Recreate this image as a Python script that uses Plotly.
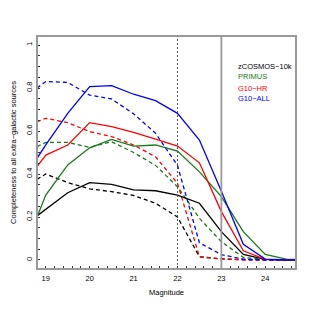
import plotly.graph_objects as go

mag = [18.8, 19.0, 19.5, 20.0, 20.5, 21.0, 21.5, 22.0, 22.5, 23.0, 23.5, 24.0, 24.5, 24.7]

zcosmos_solid = [0.205, 0.235, 0.313, 0.36, 0.352, 0.326, 0.322, 0.302, 0.264, 0.132, 0.026, 0.003, 0.0, 0.0]
zcosmos_dash  = [0.375, 0.40, 0.36, 0.331, 0.318, 0.30, 0.264, 0.20, 0.015, 0.005, 0.002, 0.0, 0.0, 0.0]
primus_solid  = [0.20, 0.302, 0.442, 0.522, 0.561, 0.53, 0.535, 0.507, 0.41, 0.295, 0.132, 0.026, 0.003, 0.003]
primus_dash   = [0.527, 0.547, 0.547, 0.524, 0.55, 0.50, 0.44, 0.341, 0.194, 0.085, 0.012, 0.002, 0.0, 0.0]
g10hr_solid   = [0.434, 0.488, 0.535, 0.639, 0.62, 0.594, 0.562, 0.53, 0.452, 0.225, 0.043, 0.003, 0.0, 0.0]
g10hr_dash    = [0.643, 0.659, 0.639, 0.597, 0.574, 0.535, 0.48, 0.357, 0.015, 0.005, 0.0, 0.0, 0.0, 0.0]
g10all_solid  = [0.473, 0.535, 0.682, 0.806, 0.811, 0.771, 0.741, 0.682, 0.558, 0.32, 0.073, 0.004, 0.0, 0.0]
g10all_dash   = [0.80, 0.83, 0.826, 0.767, 0.749, 0.68, 0.59, 0.44, 0.08, 0.025, 0.004, 0.0, 0.0, 0.0]

series_names = ["zCOSMOS\u221210k", "PRIMUS", "G10\u2212HR", "G10\u2212ALL"]
series_colors = ["#000000", "#167a16", "#ff0000", "#0000ff"]
solid_vals = [zcosmos_solid, primus_solid, g10hr_solid, g10all_solid]
dash_vals = [zcosmos_dash, primus_dash, g10hr_dash, g10all_dash]

x_ticks = [19, 20, 21, 22, 23, 24]
y_ticks = [0, 0.2, 0.4, 0.6, 0.8, 1]
y_tick_text = ["0", "0.2", "0.4", "0.6", "0.8", "1"]

limit_dotted = 22
limit_solid = 23

legend_y = [0.90, 0.852, 0.800, 0.752]
legend_x = 23.33

FONT = "Liberation Sans, Arial, sans-serif"

fig = go.Figure()
for name, col, sv, dv in zip(series_names, series_colors, solid_vals, dash_vals):
    fig.add_trace(go.Scatter(x=mag, y=dv, mode="lines", name=name + " dashed",
                             line=dict(color=col, width=1.3, dash="4px,3px"),
                             showlegend=False, hoverinfo="skip"))
for name, col, sv, dv in zip(series_names, series_colors, solid_vals, dash_vals):
    fig.add_trace(go.Scatter(x=mag, y=sv, mode="lines", name=name,
                             line=dict(color=col, width=1.3),
                             showlegend=False, hoverinfo="skip"))

fig.add_shape(type="line", x0=limit_dotted, x1=limit_dotted, y0=0, y1=1,
              xref="x", yref="paper", line=dict(color="#444444", width=0.9, dash="2px,2px"))
fig.add_shape(type="line", x0=limit_solid, x1=limit_solid, y0=0, y1=1,
              xref="x", yref="paper", line=dict(color="#999999", width=1.8))
fig.add_shape(type="rect", x0=0, x1=1, y0=0, y1=1, xref="paper", yref="paper",
              line=dict(color="#999999", width=2))

for name, col, ly in zip(series_names, series_colors, legend_y):
    fig.add_annotation(x=legend_x, y=ly, xref="x", yref="y", text=name,
                       showarrow=False, xanchor="left", yanchor="middle",
                       font=dict(color=col, size=7.5, family=FONT))

fig.update_xaxes(range=[18.8, 24.7], tickvals=x_ticks, ticktext=[str(v) for v in x_ticks],
                 ticks="inside", ticklen=3, tickcolor="#333333", tickwidth=1,
                 minor=dict(dtick=0.2, tick0=19, ticks="inside", ticklen=3, tickcolor="#333333", tickwidth=1),
                 showgrid=False, zeroline=False, showline=False, automargin=False,
                 ticklabelstandoff=3,
                 title=dict(text="Magnitude", standoff=8, font=dict(size=7.5)),
                 tickfont=dict(size=7.5))
fig.update_yaxes(range=[-0.0419, 1.0419], tickvals=y_ticks, ticktext=y_tick_text,
                 ticks="inside", ticklen=3, tickcolor="#333333", tickwidth=1,
                 minor=dict(dtick=0.05, tick0=0, ticks="inside", ticklen=3, tickcolor="#333333", tickwidth=1),
                 showgrid=False, zeroline=False, showline=False, tickangle=-90, automargin=False,
                 ticklabelstandoff=3,
                 title=dict(text="Completeness to all extra\u2212galactic sources", standoff=6, font=dict(size=7.5)),
                 tickfont=dict(size=7.5))

fig.update_layout(width=307, height=307, margin=dict(l=29, r=19, t=28, b=46, autoexpand=False),
                  paper_bgcolor="white", plot_bgcolor="white",
                  font=dict(family=FONT, color="#000000"),
                  showlegend=False)

fig.write_html("out.html")
